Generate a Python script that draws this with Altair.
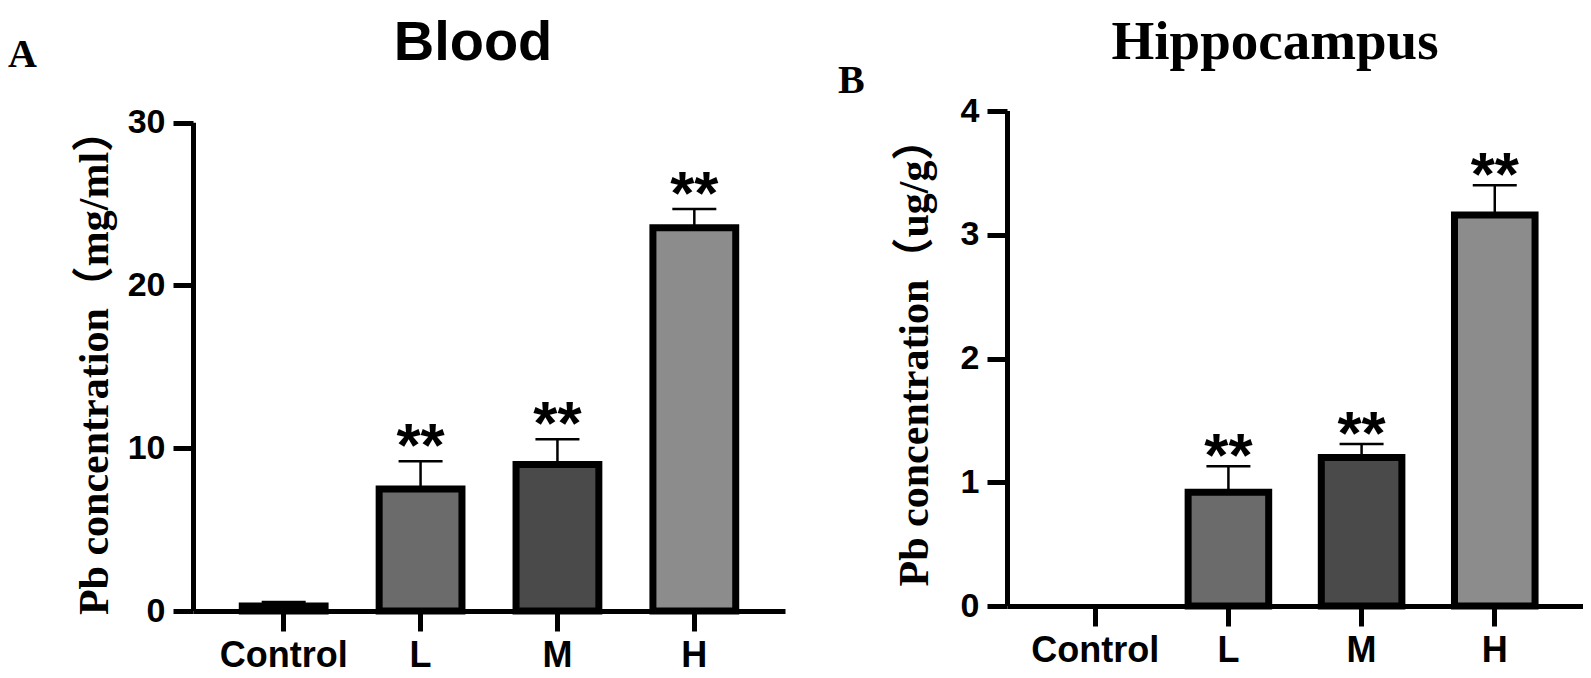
import altair as alt
import pandas as pd

groups = ["Control", "L", "M", "H"]
fills = ["#d9d9d9", "#6b6b6b", "#4a4a4a", "#8c8c8c"]
sig = ["", "**", "**", "**"]

blood_mean = [0.3, 7.5, 9.0, 23.55]
blood_err = [0.25, 1.7, 1.55, 1.15]
blood_ticks = [0, 10, 20, 30]

hip_mean = [0.0, 0.92, 1.2, 3.16]
hip_err = [0.0, 0.21, 0.11, 0.24]
hip_ticks = [0, 1, 2, 3, 4]


def panel(mean, err, ticks, axis_top, ymax, ytitle, title, title_font, title_size,
          title_x, title_y, letter, letter_x, letter_y, width, height,
          tax_x, tax_y, star_dy):
    df = pd.DataFrame({"group": groups, "mean": mean, "err": err, "sig": sig})
    base = alt.Chart(df).transform_calculate(upper="datum.mean + datum.err")

    xaxis = alt.Axis(domainColor="black", domainWidth=5, tickColor="black",
                     tickWidth=5, tickSize=20, labelFont="Liberation Sans",
                     labelFontWeight="bold", labelFontSize=36, labelColor="black",
                     labelPadding=7, labelAngle=0, grid=False)
    yaxis = alt.Axis(values=ticks, domain=False,
                     tickColor="black", tickWidth=5, tickSize=20,
                     labelFont="Liberation Sans", labelFontWeight="bold",
                     labelFontSize=34, labelColor="black", labelPadding=8,
                     grid=False, titleFont="Liberation Serif, Noto Sans CJK SC",
                     titleFontWeight="bold", titleFontSize=42, titleColor="black",
                     titleAngle=270, titleX=tax_x, titleY=tax_y,
                     titleAlign="center", titleBaseline="alphabetic")
    xs = alt.Scale(domain=groups, paddingInner=0.395, paddingOuter=0.36)
    ys = alt.Scale(domain=[0, ymax], nice=False)

    def X():
        return alt.X("group:N", sort=groups, scale=xs, axis=xaxis, title=None)

    def Y(field):
        return alt.Y(field, scale=ys, axis=yaxis, title=ytitle)

    bars = base.transform_filter("datum.mean > 0").mark_bar(
        stroke="black", strokeWidth=7).encode(
        x=X(), y=Y("mean:Q"),
        fill=alt.Fill("group:N", scale=alt.Scale(domain=groups, range=fills),
                      legend=None))
    rule = base.transform_filter("datum.mean > 0").mark_rule(
        color="black", strokeWidth=2.5).encode(
        x=X(), y=Y("mean:Q"), y2="upper:Q")
    cap = base.transform_filter("datum.mean > 0").mark_tick(
        color="black", size=44, thickness=2.5, opacity=1).encode(
        x=X(), y=Y("upper:Q"))
    stars = base.transform_filter("datum.sig != ''").mark_text(
        font="Liberation Sans", fontSize=62, fontWeight="bold",
        baseline="alphabetic", align="center", dy=star_dy, color="black").encode(
        x=X(), y=Y("upper:Q"), text="sig:N")
    yline = alt.Chart(alt.Data(values=[{"y0": 0, "y1": axis_top}])).mark_rule(
        color="black", strokeWidth=5).encode(
        x=alt.value(0.5), y=Y("y0:Q"), y2="y1:Q")
    ttl = alt.Chart(alt.Data(values=[{"t": title}])).mark_text(
        font=title_font, fontSize=title_size, fontWeight="bold",
        align="center", baseline="alphabetic", color="black").encode(
        text="t:N", x=alt.value(title_x), y=alt.value(title_y))
    let = alt.Chart(alt.Data(values=[{"t": letter}])).mark_text(
        font="Liberation Serif", fontSize=40, fontWeight="bold",
        align="left", baseline="alphabetic", color="black").encode(
        text="t:N", x=alt.value(letter_x), y=alt.value(letter_y))
    return alt.layer(bars, rule, cap, stars, yline, ttl, let).properties(
        width=width, height=height)


left = panel(blood_mean, blood_err, blood_ticks, 30, 30.72,
             "Pb concentration（mg/ml）", "Blood", "Liberation Sans", 56,
             280, -51, "A", -185, -44, 592, 500, -86, 251, 5)
right = panel(hip_mean, hip_err, hip_ticks, 4, 4,
              "Pb concentration（ug/g）", "Hippocampus", "Liberation Serif", 55,
              268, -52, "B", -169, -18, 576, 495, -80, 241, 10)

chart = alt.hconcat(left, right, spacing=53).configure_view(
    strokeWidth=0).properties(padding={"left": 0, "top": 7, "right": 0, "bottom": 0})

chart.save("out.html", embed_options={"renderer": "svg", "actions": False})
